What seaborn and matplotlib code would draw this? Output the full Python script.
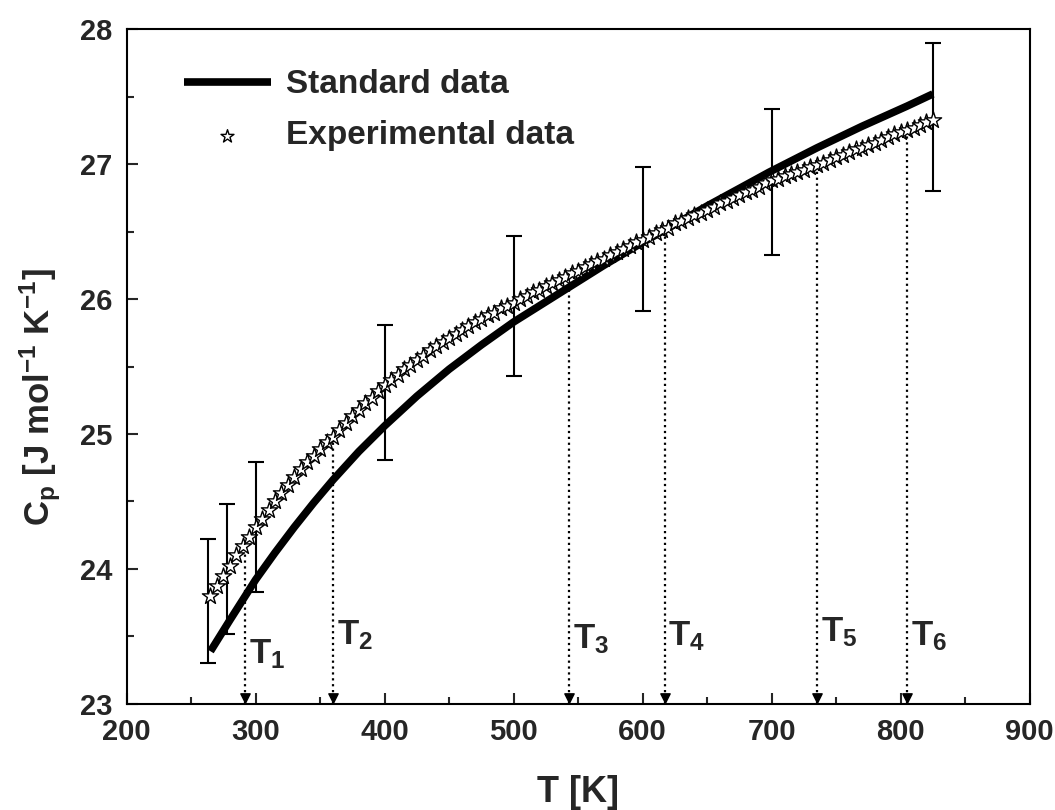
import numpy as np
import pandas as pd
import matplotlib
matplotlib.use("Agg")
import matplotlib.pyplot as plt
from matplotlib.ticker import MultipleLocator
import seaborn as sns

# standard data (thick line)
std_T = [265, 280, 292, 300, 315, 330, 345, 360, 380, 400, 425, 450, 475, 500, 520, 540,
         570, 600, 628, 650, 675, 698, 735, 770, 805, 825]
std_cp = [23.39, 23.62, 23.80, 23.92, 24.12, 24.31, 24.49, 24.66, 24.87, 25.06, 25.28, 25.48,
          25.66, 25.83, 25.95, 26.07, 26.25, 26.42, 26.57, 26.69, 26.82, 26.94, 27.12, 27.28,
          27.43, 27.52]

# experimental data (open stars), every 5 K
exp_T = list(range(265, 830, 5))
exp_cp = [23.80, 23.87, 23.95, 24.02, 24.10, 24.17, 24.24, 24.31,
          24.37, 24.44, 24.50, 24.56, 24.62, 24.68, 24.74, 24.79, 24.84, 24.89, 24.94, 24.98,
          25.03, 25.08, 25.13, 25.18, 25.23, 25.27, 25.32, 25.36,
          25.40, 25.44, 25.48, 25.51, 25.55, 25.58, 25.62, 25.65, 25.68, 25.71,
          25.74, 25.77, 25.80, 25.83, 25.85, 25.88, 25.90, 25.93, 25.95, 25.97,
          26.00, 26.02, 26.05, 26.07, 26.10, 26.12, 26.14, 26.16, 26.19, 26.21,
          26.24, 26.26, 26.28, 26.30, 26.33, 26.35, 26.37, 26.39, 26.42, 26.44,
          26.46, 26.49, 26.51, 26.53, 26.56, 26.58, 26.60, 26.62, 26.64, 26.66,
          26.68, 26.71, 26.73, 26.75, 26.77, 26.79, 26.81, 26.83, 26.86, 26.88,
          26.89, 26.91, 26.93, 26.94, 26.96, 26.98, 26.99, 27.01, 27.03, 27.05,
          27.07, 27.09, 27.11, 27.12, 27.14, 27.16, 27.18, 27.20, 27.22, 27.24,
          27.25, 27.27, 27.29, 27.31, 27.33]

# error bars
err_T = [263, 278, 300, 400, 500, 600, 700, 825]
err_cp = [23.76, 24.00, 24.31, 25.31, 25.95, 26.445, 26.87, 27.35]
err_val = [0.46, 0.48, 0.48, 0.50, 0.52, 0.53, 0.54, 0.55]

# characteristic temperatures
mark_T = [292, 360, 543, 617, 735, 805]
mark_cp = [24.20, 24.98, 26.17, 26.52, 26.99, 27.25]
mark_lbl = ["T$_1$", "T$_2$", "T$_3$", "T$_4$", "T$_5$", "T$_6$"]
mark_lbl_y = [23.37, 23.51, 23.48, 23.50, 23.53, 23.50]

sns.set_style("ticks")
plt.rcParams['font.family'] = ['Liberation Sans', 'DejaVu Sans']
plt.rcParams['font.weight'] = 'bold'
plt.rcParams['mathtext.fontset'] = 'custom'
plt.rcParams['mathtext.rm'] = 'Liberation Sans:bold'
plt.rcParams['mathtext.it'] = 'Liberation Sans:bold'
plt.rcParams['mathtext.bf'] = 'Liberation Sans:bold'
plt.rcParams['mathtext.default'] = 'rm'

std_df = pd.DataFrame({'T': std_T, 'Cp': std_cp})
exp_df = pd.DataFrame({'T': exp_T, 'Cp': exp_cp})

fig = plt.figure(figsize=(10.55, 8.1), dpi=100)
ax = fig.add_axes([0.120, 0.131, 0.856, 0.833])

ax.errorbar(err_T, err_cp, yerr=err_val, fmt='none', ecolor='black', elinewidth=1.5,
            capsize=6, capthick=1.5, zorder=2)
sns.lineplot(x='T', y='Cp', data=std_df, color='black', linewidth=5.5, ax=ax,
             label='Standard data', zorder=3, solid_joinstyle='round', solid_capstyle='butt')
sns.scatterplot(x='T', y='Cp', data=exp_df, marker='*', s=150, facecolor='white',
                edgecolor='black', linewidth=1.0, ax=ax, label='Experimental data', zorder=4)

for t, c, lbl, ly in zip(mark_T, mark_cp, mark_lbl, mark_lbl_y):
    ax.plot([t, t], [23, c], color='black', linestyle=':', linewidth=1.6, zorder=1)
    ax.text(t + 3, ly, lbl, fontsize=25, fontweight='bold', ha='left', va='center')
ax.scatter(mark_T, [23.04] * len(mark_T), marker='v', s=45, color='black', clip_on=False, zorder=5)

ax.set_xlim(200, 900)
ax.set_ylim(23, 28)
ax.xaxis.set_major_locator(MultipleLocator(100))
ax.xaxis.set_minor_locator(MultipleLocator(50))
ax.yaxis.set_major_locator(MultipleLocator(1))
ax.yaxis.set_minor_locator(MultipleLocator(0.5))
ax.tick_params(which='major', direction='in', length=8, width=1.5, labelsize=21, pad=10,
               top=False, right=False)
ax.tick_params(which='minor', direction='in', length=5, width=1.5, top=False, right=False)
for lab in ax.get_xticklabels() + ax.get_yticklabels():
    lab.set_fontweight('bold')
for sp in ax.spines.values():
    sp.set_linewidth(1.5)
    sp.set_color('black')

ax.set_xlabel('T [K]', fontsize=26, fontweight='bold')
ax.set_ylabel('C$_p$ [J mol$^{-1}$ K$^{-1}$]', fontsize=25, fontweight='bold')
ax.xaxis.set_label_coords(0.5, -0.105)
ax.yaxis.set_label_coords(-0.07, 0.455)

ax.legend(loc='upper left', bbox_to_anchor=(0.045, 0.965), frameon=False,
          handlelength=2.6, handletextpad=0.45, labelspacing=0.6, borderpad=0,
          markerscale=0.8, prop={'weight': 'bold', 'size': 24})

plt.savefig('out.png', dpi=100)
